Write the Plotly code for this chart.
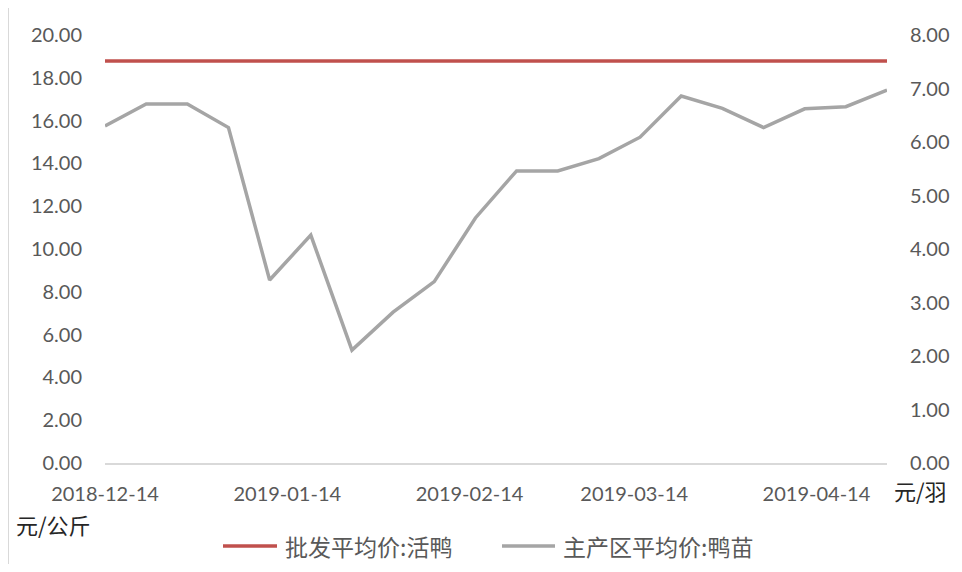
import plotly.graph_objects as go

dates = ["2018-12-14", "2018-12-21", "2018-12-28", "2019-01-04", "2019-01-11",
         "2019-01-18", "2019-01-25", "2019-02-01", "2019-02-08", "2019-02-15",
         "2019-02-22", "2019-03-01", "2019-03-08", "2019-03-15", "2019-03-22",
         "2019-03-29", "2019-04-05", "2019-04-12", "2019-04-19", "2019-04-26"]
live_duck = [18.78] * 20
duckling = [6.30, 6.71, 6.71, 6.27, 3.42, 4.26, 2.11, 2.82, 3.39, 4.58,
            5.46, 5.46, 5.69, 6.09, 6.86, 6.63, 6.27, 6.62, 6.66, 6.97]
x_tick_vals = ["2018-12-14", "2019-01-14", "2019-02-14", "2019-03-14", "2019-04-14"]
left_ticks = [0, 2, 4, 6, 8, 10, 12, 14, 16, 18, 20]
right_ticks = [0, 1, 2, 3, 4, 5, 6, 7, 8]
name_red = "批发平均价:活鸭"
name_gray = "主产区平均价:鸭苗"
unit_left = "元/公斤"
unit_right = "元/羽"

RED = "#C0504D"
GRAY = "#A5A5A5"
TICK_FONT = dict(family="Lato, 'Open Sans', sans-serif", size=20, color="#595959")
CJK_FONT = dict(family="'Noto Sans CJK SC', sans-serif", size=23, color="#595959")
UNIT_FONT = dict(family="'Noto Sans CJK SC', sans-serif", size=22, color="#262626")

OFF = 8  # page body margin
W, H = 962 - 2 * OFF, 572 - 2 * OFF
# plot area in page pixels: x 105..887, y 35..463
L, R, T, B = 105, 887, 35, 463
def px(x):
    return (x - L) / (R - L)
def py(y):
    return (B - y) / (B - T)

fig = go.Figure()
fig.add_trace(go.Scatter(x=dates, y=live_duck, mode="lines", name=name_red,
                         line=dict(color=RED, width=3.5), yaxis="y", showlegend=False))
fig.add_trace(go.Scatter(x=dates, y=duckling, mode="lines", name=name_gray,
                         line=dict(color=GRAY, width=3.5), yaxis="y2", showlegend=False))

fig.update_layout(
    width=W, height=H,
    margin=dict(l=L - OFF, r=W - (R - OFF), t=T - OFF, b=H - (B - OFF), autoexpand=False),
    paper_bgcolor="white", plot_bgcolor="white",
    showlegend=False,
    xaxis=dict(type="date", range=["2018-12-14", "2019-04-26"],
               tickvals=x_tick_vals, ticktext=x_tick_vals,
               tickfont=TICK_FONT, showgrid=False, zeroline=False,
               showline=True, linecolor="#D9D9D9", linewidth=2,
               ticks="", ticklabelstandoff=12, automargin=False),
    yaxis=dict(range=[0, 20], tickvals=left_ticks,
               ticktext=[f"{v:.2f}" for v in left_ticks],
               tickfont=TICK_FONT, showgrid=False, zeroline=False,
               showline=False, ticks="", ticklabelstandoff=22, automargin=False),
    yaxis2=dict(range=[0, 8], tickvals=right_ticks,
                ticktext=[f"{v:.2f}" for v in right_ticks],
                overlaying="y", side="right",
                tickfont=TICK_FONT, showgrid=False, zeroline=False,
                showline=False, ticks="", ticklabelstandoff=22, automargin=False),
)

# unit labels
fig.add_annotation(text=unit_left, xref="paper", yref="paper", x=px(14), y=py(524),
                   xanchor="left", yanchor="middle", showarrow=False, font=UNIT_FONT)
fig.add_annotation(text=unit_right, xref="paper", yref="paper", x=px(892), y=py(490),
                   xanchor="left", yanchor="middle", showarrow=False, font=UNIT_FONT)

# legend (manual)
for x0, x1, tx, col, name in [(223, 277, 283, RED, name_red),
                              (502, 555, 561, GRAY, name_gray)]:
    fig.add_shape(type="line", xref="paper", yref="paper", x0=px(x0), x1=px(x1),
                  y0=py(546), y1=py(546), line=dict(color=col, width=3.5))
    fig.add_annotation(text=name, xref="paper", yref="paper", x=px(tx), y=py(546),
                       xanchor="left", yanchor="middle", showarrow=False, font=CJK_FONT)

# frame line at left edge
fig.add_shape(type="line", xref="paper", yref="paper", x0=px(8), x1=px(8),
              y0=py(564), y1=py(8), line=dict(color="#D9D9D9", width=2))

fig.write_html("out.html")
